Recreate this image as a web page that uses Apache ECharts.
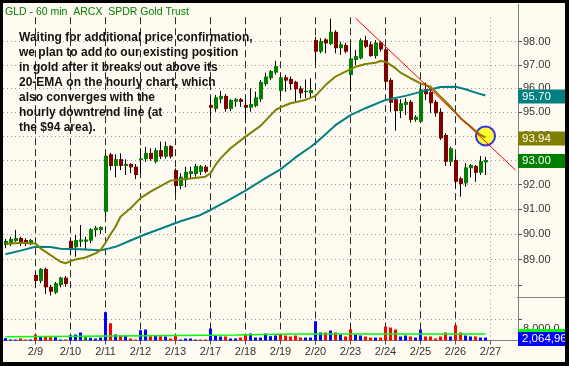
<!DOCTYPE html>
<html><head><meta charset="utf-8">
<script src="https://cdn.jsdelivr.net/npm/echarts@6/dist/echarts.min.js"></script>
<style>html,body{margin:0;padding:0;background:#000;}#c{width:569px;height:366px;}</style>
</head><body><div id="c"></div>
<script>
const FONT = '"Liberation Sans", Arial, sans-serif';
const days = ['2/6','2/9','2/10','2/11','2/12','2/13','2/17','2/18','2/19','2/20','2/23','2/24','2/25','2/26','2/27'];
const barsPerDay = [6,7,7,7,7,7,7,7,7,7,7,7,7,7,6];
const hours = ['9:30','10:30','11:30','12:30','13:30','14:30','15:30'];

const opens = [89.57,89.65,89.73,89.85,89.77,89.61,
88.39,88.16,88.63,87.93,87.70,88.00,88.29,
89.74,89.48,89.70,89.70,89.74,90.16,90.17,
90.90,93.24,92.76,93.04,92.76,92.84,92.73,
93.00,93.04,93.30,92.93,93.41,93.14,93.58,
92.59,91.94,92.18,92.43,92.43,92.52,92.73,
95.30,95.13,95.54,95.68,95.13,95.43,95.54,
95.30,95.18,95.25,95.54,96.18,96.43,96.67,
95.89,96.47,96.40,96.28,96.00,95.84,95.79,
98.07,97.57,98.10,97.90,98.43,97.72,97.86,
96.57,97.21,97.28,98.07,97.89,97.38,97.97,
97.67,96.36,95.54,95.04,95.30,95.43,94.67,
94.59,95.96,95.85,95.43,95.01,94.04,92.93,
93.00,92.25,92.05,92.66,92.76,92.48,92.91];
const closes = [89.73,89.81,89.85,89.66,89.61,89.77,
88.16,88.63,87.91,87.74,88.07,88.29,88.04,
89.37,89.77,89.79,89.79,90.20,90.26,90.29,
93.18,92.76,93.04,92.76,92.84,92.70,92.39,
93.07,93.30,93.04,93.41,93.14,93.58,93.14,
91.94,92.32,92.52,92.55,92.76,92.75,92.52,
95.18,95.62,95.68,95.13,95.51,95.54,95.43,
95.18,95.34,95.62,96.27,96.50,96.74,96.95,
96.47,96.33,96.18,95.96,95.79,95.90,95.93,
97.57,98.03,97.93,98.43,97.72,97.89,97.57,
97.28,97.38,98.07,97.78,97.38,97.97,97.67,
96.28,95.39,95.04,95.37,95.43,94.67,94.80,
95.96,95.75,95.37,94.95,93.90,92.93,93.49,
92.11,92.02,92.70,92.80,92.48,92.96,93.00];
const lows = [89.45,89.53,89.70,89.53,89.53,89.57,
87.93,88.07,87.65,87.59,87.65,87.91,87.93,
89.17,89.11,89.50,89.40,89.64,89.90,90.01,
90.73,92.59,92.29,92.59,92.39,92.46,92.22,
92.46,92.93,92.97,92.87,93.04,93.07,93.07,
91.64,91.81,91.89,92.25,92.32,92.39,92.46,
94.83,95.01,95.37,95.01,95.04,95.22,95.22,
94.64,95.01,95.20,95.43,96.10,96.35,96.59,
95.68,95.86,95.93,95.43,95.58,95.58,95.58,
97.09,97.50,97.50,97.86,97.50,97.43,97.50,
95.86,97.00,97.24,97.72,97.35,97.28,97.57,
95.96,95.01,94.22,94.74,94.87,94.55,94.59,
94.55,95.51,94.97,94.80,93.83,92.76,92.76,
91.85,91.51,91.91,92.29,92.11,92.39,92.39];
const highs = [89.81,89.90,90.17,89.90,89.84,89.81,
88.48,88.66,88.68,88.00,88.12,88.32,88.35,
89.84,89.97,90.37,89.90,90.24,90.33,90.31,
93.24,93.30,93.24,93.28,93.03,92.87,92.84,
93.49,93.55,93.49,93.49,93.76,93.76,93.61,
92.66,92.46,92.73,92.73,92.84,92.80,92.80,
95.65,95.72,95.89,95.76,95.54,95.59,95.59,
95.51,96.00,95.86,96.35,96.67,96.78,97.18,
96.57,96.57,96.50,96.32,96.10,96.38,96.43,
98.22,98.15,98.15,99.01,98.50,98.00,97.96,
97.86,97.64,98.15,98.25,98.00,98.07,98.04,
97.76,96.44,95.62,95.54,95.58,95.51,94.87,
96.24,96.24,96.00,95.51,95.16,94.11,93.55,
93.17,92.32,92.87,92.84,92.80,93.17,93.14];
const volumes = [870,380,380,750,380,380,
2260,1510,1510,1250,1250,380,380,
2000,2260,3020,1250,1020,750,1130,
10680,6520,2260,1890,1890,750,380,
3880,4150,1620,1890,1620,1510,750,
1890,380,750,750,380,380,380,
4520,1890,1510,1510,750,750,1130,
2260,2640,1130,1130,2640,1620,1890,
2400,1890,1510,1890,1130,1130,1130,
7280,3020,3020,3770,3020,2260,1510,
4270,2260,1890,1510,1130,1130,1130,
5280,4900,4150,1510,1890,1510,1130,
4150,1510,1510,750,1510,3020,1510,
5770,3020,1890,1510,1510,1130,1130];

const ema20Points = [[0,89.61],[3,89.66],[6,89.63],[7,89.44],[9,89.17],[11,88.91],[12,88.85],[13,88.94],[14,89.0],[16,89.08],[18,89.24],[19,89.37],[20,89.66],[21,90.0],[22,90.3],[23,90.7],[25,91.04],[27,91.45],[29,91.71],[31,91.94],[33,92.16],[35,92.21],[37,92.25],[40,92.32],[41,92.46],[42,92.80],[43,93.07],[45,93.49],[48,93.97],[51,94.42],[54,95.08],[55,95.20],[57,95.37],[60,95.51],[62,95.68],[64,96.14],[66,96.50],[68,96.71],[70,96.92],[72,97.04],[74,97.09],[75,97.17],[76,97.14],[78,96.86],[79,96.67],[81,96.43],[83,96.21],[85,96.07],[87,95.65],[89,95.23],[91,94.74],[93,94.39],[95,94.04],[96,93.94]];
const ema50Points = [[0,89.21],[3,89.35],[6,89.50],[9,89.49],[11,89.42],[15,89.40],[19,89.36],[20,89.40],[22,89.50],[25,89.75],[28,90.0],[31,90.22],[35,90.52],[39,90.77],[41,90.97],[44,91.30],[48,91.75],[52,92.26],[55,92.62],[58,93.11],[61,93.54],[62,93.70],[66,94.45],[69,94.87],[72,95.16],[76,95.51],[80,95.68],[83,95.85],[87,96.06],[90,96.07],[92,95.96],[94,95.82],[96,95.70]];
const volAvgPoints = [[0,1430],[29,1810],[46,2080],[57,2450],[96,2450]];
const trendPoints = [[70,99.03],[102,92.59]];
const circlePoint = [96,94.0];
const priceTicks = [88,89,90,91,92,93,94,95,96,97,98];
const priceLabels = [89,90,91,92,93,94,95,96,97,98];
const volTicks = [8000];
const volBoxValue = 2064.96;
const volBoxText = '2,064,96';
const titleText = 'GLD - 60 min  ARCX  SPDR Gold Trust';
const noteLines = ['Waiting for additional price confirmation,','we plan to add to our existing position','in gold after it breaks out above its','20-EMA on the hourly chart, which','also converges with the','hourly downtrend line (at','the $94 area).'];
const priceMin = 87.535, priceMax = 99.65, volMax = 16417, dayLineTop = 99.07;

// categories
const categories = [];
const dayStarts = [];
days.forEach((d, di) => {
  const n = barsPerDay[di];
  const hs = di === 0 ? hours.slice(7 - n) : hours.slice(0, n);
  if (di > 0) dayStarts.push(categories.length);
  hs.forEach(h => categories.push(d + ' ' + h));
});
const startSet = new Set(dayStarts);
const lastIdx = closes.length - 1;
const futureStart = dayStarts[dayStarts.length - 1];

const candleData = opens.map((o, i) => [i, o, closes[i], lows[i], highs[i]]);
const volData = volumes.map((v, i) => {
  const prev = i === 0 ? opens[0] : closes[i - 1];
  const c = closes[i];
  const col = c > prev ? '#0000ff' : (c < prev ? '#ff0000' : '#008000');
  return {value: v, itemStyle: {color: col}};
});

const HIDDEN = {color: 'rgba(0,0,0,0)', width: 0};
function boxLabel(text, bg) {
  return {show: true, position: 'end', distance: 0, formatter: text, backgroundColor: bg,
    color: '#fff', fontSize: 11.5, fontFamily: FONT, padding: [2, 3, 1, 4], width: 40,
    lineHeight: 11, align: 'left', offset: [0, 1], opacity: 1};
}

const solidDash = {color: '#2a2a2a', type: [7, 4], width: 1, opacity: 1};
const futureDash = {color: '#999', type: [1, 3], width: 1, opacity: 1};
const dateLinesPrice = dayStarts.map(idx => [
  {xAxis: idx, yAxis: dayLineTop, lineStyle: idx === futureStart ? futureDash : solidDash},
  {xAxis: idx, yAxis: priceMin}
]);
const dateLinesVol = dayStarts.map(idx => ({xAxis: idx, lineStyle: idx === futureStart ? futureDash : solidDash}));

const chart = echarts.init(document.getElementById('c'), null, {renderer: 'canvas'});
const option = {
  animation: false,
  backgroundColor: '#fffbf0',
  textStyle: {fontFamily: FONT},
  title: [
    {text: titleText, left: 5, top: 6.5, padding: 0,
      textStyle: {fontSize: 10.5, fontWeight: 'normal', color: '#008000', fontFamily: FONT, lineHeight: 12}},
    {text: noteLines.join('\n'), left: 19, top: 30.2, padding: 0,
      textStyle: {fontSize: 12, fontWeight: 'bold', color: '#111', fontFamily: FONT, lineHeight: 15}}
  ],
  grid: [
    {left: 3, right: 51, top: 4, bottom: 69},
    {left: 3, right: 51, top: 297, bottom: 25.5}
  ],
  xAxis: [
    {type: 'category', gridIndex: 0, data: categories, boundaryGap: true,
      axisLine: {show: false}, axisTick: {show: false}, axisLabel: {show: false}, splitLine: {show: false}},
    {type: 'category', gridIndex: 1, data: categories, boundaryGap: true,
      axisLine: {show: true, lineStyle: {color: '#808080', width: 1}},
      axisTick: {show: true, alignWithLabel: true, interval: (i) => startSet.has(i), length: 4, lineStyle: {color: '#555'}},
      axisLabel: {show: true, interval: (i) => startSet.has(i), formatter: v => v.split(' ')[0],
        fontSize: 11, color: '#333', margin: 6, fontFamily: FONT},
      splitLine: {show: false}}
  ],
  yAxis: [
    {type: 'log', gridIndex: 0, position: 'right', min: priceMin, max: priceMax,
      axisLine: {show: true, lineStyle: {color: '#808080'}},
      axisTick: {show: true, length: 4, customValues: priceTicks, lineStyle: {color: '#555'}},
      axisLabel: {show: true, customValues: priceLabels, formatter: v => Number(v).toFixed(2),
        fontSize: 11, color: '#333', margin: 5, fontFamily: FONT},
      splitLine: {show: true, lineStyle: {color: '#9a9a9a', type: [1, 3], width: 1}}},
    {type: 'value', gridIndex: 1, position: 'right', min: 0, max: volMax,
      axisLine: {show: true, lineStyle: {color: '#808080'}},
      axisTick: {show: true, length: 4, customValues: volTicks, lineStyle: {color: '#555'}},
      axisLabel: {show: true, customValues: volTicks, formatter: v => Number(v).toLocaleString('en-US', {minimumFractionDigits: 1, maximumFractionDigits: 1}),
        fontSize: 11, color: '#333', margin: 5, verticalAlign: 'top', lineHeight: 19, fontFamily: FONT},
      splitLine: {show: true, lineStyle: {color: '#9a9a9a', type: [1, 3], width: 1}}}
  ],
  series: [
    {type: 'custom', name: 'GLD', xAxisIndex: 0, yAxisIndex: 0, z: 2,
      data: candleData, encode: {x: 0, y: [1, 2, 3, 4]},
      renderItem: function (params, api) {
        const i = api.value(0), o = api.value(1), c = api.value(2), l = api.value(3), h = api.value(4);
        const pO = api.coord([i, o]), pC = api.coord([i, c]), pL = api.coord([i, l]), pH = api.coord([i, h]);
        const X = Math.floor(pO[0]);
        const top = Math.min(pO[1], pC[1]);
        let hgt = Math.abs(pO[1] - pC[1]);
        if (hgt < 1) hgt = 1;
        return {type: 'group', children: [
          {type: 'line', shape: {x1: X + 0.5, y1: pH[1], x2: X + 0.5, y2: pL[1]}, style: {stroke: '#000', lineWidth: 1}},
          {type: 'rect', shape: {x: X - 1, y: top, width: 4, height: hgt}, style: {fill: c >= o ? '#008000' : '#800000'}}
        ]};
      }},
    {type: 'scatter', xAxisIndex: 0, yAxisIndex: 0, z: 3, data: [circlePoint], symbol: 'circle', symbolSize: 19,
      itemStyle: {color: '#ffff00', borderColor: '#0000ff', borderWidth: 2}, silent: true},
    {type: 'line', name: 'EMA50', xAxisIndex: 0, yAxisIndex: 0, z: 4, data: ema50Points, showSymbol: false,
      lineStyle: {color: '#008080', width: 2}, silent: true,
      markLine: {silent: true, symbol: ['none', 'none'], animation: false, z: 20,
        data: [{yAxis: ema50Points[ema50Points.length - 1][1], lineStyle: HIDDEN, label: boxLabel(ema50Points[ema50Points.length - 1][1].toFixed(2), '#008080')}]}},
    {type: 'line', name: 'EMA20', xAxisIndex: 0, yAxisIndex: 0, z: 5, data: ema20Points, showSymbol: false,
      lineStyle: {color: '#808000', width: 2}, silent: true,
      markLine: {silent: true, symbol: ['none', 'none'], animation: false, z: 20,
        data: [{yAxis: ema20Points[ema20Points.length - 1][1], lineStyle: HIDDEN, label: boxLabel(ema20Points[ema20Points.length - 1][1].toFixed(2), '#808000')}]}},
    {type: 'line', name: 'Trend', xAxisIndex: 0, yAxisIndex: 0, z: 5, data: trendPoints, showSymbol: false,
      lineStyle: {color: '#ff0000', width: 1}, silent: true,
      markLine: {silent: true, symbol: ['none', 'none'], animation: false, label: {show: false}, z: 1,
        data: dateLinesPrice}},
    {type: 'line', name: 'LastClose', xAxisIndex: 0, yAxisIndex: 0, z: 5, data: [], silent: true,
      markLine: {silent: true, symbol: ['none', 'none'], animation: false, z: 20,
        data: [{yAxis: closes[lastIdx], lineStyle: HIDDEN, label: boxLabel(closes[lastIdx].toFixed(2), '#008000')}]}},
    {type: 'bar', name: 'Volume', xAxisIndex: 1, yAxisIndex: 1, data: volData, barWidth: 3, z: 2, silent: true,
      markLine: {silent: true, symbol: ['none', 'none'], animation: false, label: {show: false}, z: 1, data: dateLinesVol}},
    {type: 'line', name: 'VolAvg', xAxisIndex: 1, yAxisIndex: 1, data: volAvgPoints, showSymbol: false, z: 4,
      lineStyle: {color: '#00ff00', width: 1.5}, silent: true,
      markLine: {silent: true, symbol: ['none', 'none'], animation: false, z: 20,
        data: [
          {yAxis: volAvgPoints[volAvgPoints.length - 1][1], lineStyle: HIDDEN, label: {show: true, position: 'end', distance: 0, formatter: ' ',
            backgroundColor: '#00ff00', width: 48, height: 10, padding: 0, lineHeight: 10, offset: [0, 0]}},
          {yAxis: volBoxValue, lineStyle: HIDDEN, label: Object.assign(boxLabel(volBoxText, '#0000ff'), {offset: [0, 4], padding: [2, 2, 1, 4], width: 42})}
        ]}}
  ],
  graphic: [
    {type: 'line', shape: {x1: 517, y1: 297.5, x2: 569, y2: 297.5}, style: {stroke: '#808080', lineWidth: 1}, z: 50, silent: true},
    {type: 'rect', shape: {x: 0, y: 0, width: 569, height: 3}, style: {fill: '#000'}, z: 100, silent: true},
    {type: 'rect', shape: {x: 0, y: 0, width: 3, height: 366}, style: {fill: '#000'}, z: 100, silent: true},
    {type: 'rect', shape: {x: 565, y: 0, width: 4, height: 366}, style: {fill: '#000'}, z: 100, silent: true},
    {type: 'rect', shape: {x: 0, y: 362, width: 569, height: 4}, style: {fill: '#000'}, z: 100, silent: true}
  ]
};
chart.setOption(option);
</script>
</body></html>
